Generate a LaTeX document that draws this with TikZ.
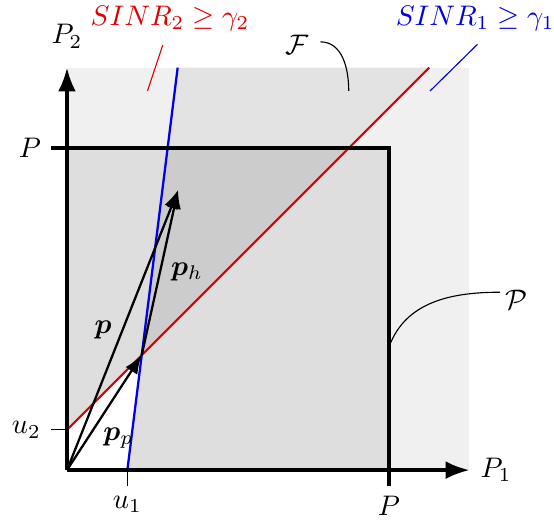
\documentclass[tikz,border=0pt]{standalone}
\usepackage{amsmath,amssymb,bm}
\usetikzlibrary{arrows.meta}

\begin{document}
\begin{tikzpicture}[>=Latex,
  axe/.style={very thick,->},
  vecp/.style={thick,->},
  pin/.style={thin},
  lbl/.style={inner sep=1pt}]
\useasboundingbox (-0.832,-0.658) rectangle (6.05,5.84);
% Points
\coordinate (O) at (0,0);
\coordinate (u1) at (0.75,0);
\coordinate (u2) at (0,0.5);
\coordinate (I) at (0.9286,1.4286);
\coordinate (Ptip) at (1.38,3.48);
\coordinate (rtop) at (4.5,5);
\coordinate (btop) at (1.375,5);
% Régions
\fill[black!6] (0,0) rectangle (5,5);
\fill[black!11] (I) -- (rtop) -- (btop) -- cycle;
\fill[black!13] (0,0) rectangle (4,4);
\fill[black!20] (I) -- (3.5,4) -- (1.25,4) -- cycle;
\fill[white] (O) -- (u1) -- (I) -- (u2) -- cycle;
% Contraintes SINR
\draw[thick,red!88!black] (u2) -- (rtop);
\draw[thick,blue!90!black] (u1) -- (btop);
% Boîte de puissance
\draw[very thick] (-0.2,4) -- (4,4) -- (4,-0.2);
\draw[thin] (u1) -- (0.75,-0.2);
\draw[thin] (u2) -- (-0.2,0.5);
% Axes
\draw[axe] (O) -- (5,0) node[right] (P1) {$P_1$};
\draw[axe] (O) -- (0,5) node[above,yshift=3pt] (P2) {$P_2$};
\node[left] (PL) at (-0.2,4) {$P$};
\node[below] (PB) at (4,-0.2) {$P$};
\node[left] (U2) at (-0.2,0.5) {$u_2$};
\node[below] (U1) at (0.75,-0.2) {$u_1$};
% Vecteurs
\draw[vecp] (O) -- (Ptip);
\draw[vecp] (O) -- (I);
\draw[vecp] (I) -- (Ptip);
\node[lbl] (p) at (0.45,1.74) {$\bm{p}$};
\node[lbl] (ph) at (1.49,2.46) {$\bm{p}_h$};
\node[lbl] (pp) at (0.64,0.4) {$\bm{p}_p$};
% Étiquettes
\node[red!88!black] (s2) at (1.28,5.61) {$SINR_2 \geq \gamma_2$};
\draw[pin,red!88!black] (1.19,5.28) -- (1.0,4.71);
\node[blue!90!black] (s1) at (5.07,5.61) {$SINR_1 \geq \gamma_1$};
\draw[pin,blue!90!black] (5.1,5.29) -- (4.51,4.71);
\node (F) at (2.86,5.28) {$\mathcal{F}$};
\draw[pin] (F.east) ++(0.02,0.04) to[out=0,in=90] (3.5,4.71);
\node (Pc) at (5.59,2.11) {$\mathcal{P}$};
\draw[pin] (5.38,2.21) to[out=180,in=70] (4,1.53);
\end{tikzpicture}
\end{document}
